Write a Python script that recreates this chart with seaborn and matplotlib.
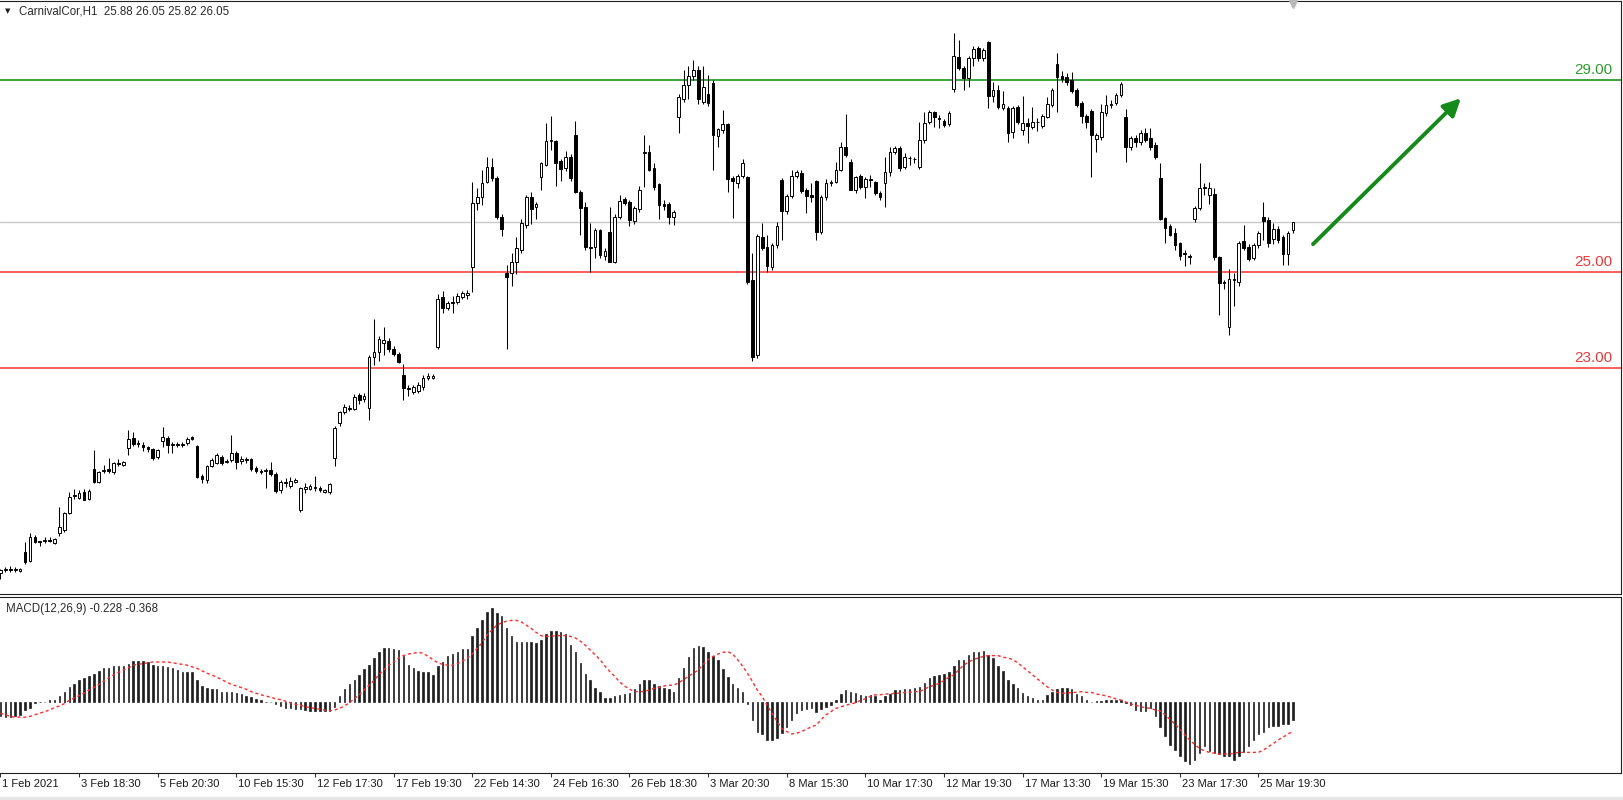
"""
CarnivalCor H1 candles with MACD(12,26,9) panel, MT4 style
"""
import numpy as np
import seaborn as sns
import matplotlib
matplotlib.use("Agg")
import matplotlib.pyplot as plt
from matplotlib import transforms
from matplotlib.patches import Rectangle

SYMBOL = "CarnivalCor,H1"

OPEN = [
    18.72, 18.80, 18.82, 18.80, 18.78, 19.17, 18.98, 19.48, 19.39, 19.40,
    19.42, 19.36, 19.56, 19.63, 19.98, 20.33, 20.30, 20.42, 20.27, 20.90,
    20.63, 20.85, 20.90, 20.83, 21.02, 20.98, 21.33, 21.54, 21.43, 21.39,
    21.35, 21.31, 21.14, 21.48, 21.55, 21.40, 21.42, 21.40, 21.43, 21.56,
    21.38, 20.75, 20.67, 20.96, 21.02, 21.15, 21.04, 21.08, 21.23, 21.06,
    21.10, 21.10, 20.92, 20.86, 20.85, 20.87, 20.80, 20.46, 20.60, 20.55,
    20.63, 20.04, 20.48, 20.48, 20.52, 20.50, 20.42, 20.42, 21.12, 21.85,
    22.08, 22.17, 22.15, 22.43, 22.35, 22.17, 23.23, 23.33, 23.52, 23.56,
    23.40, 23.29, 22.85, 22.58, 22.50, 22.52, 22.60, 22.80, 22.80, 23.44,
    24.48, 24.25, 24.38, 24.38, 24.48, 24.52, 25.10, 26.44, 26.56, 26.88,
    27.19, 26.96, 26.15, 24.98, 24.98, 25.20, 25.46, 25.98, 26.56, 26.35,
    26.98, 27.23, 27.73, 27.73, 27.31, 27.17, 27.40, 27.85, 26.67, 26.35,
    25.50, 25.52, 25.88, 25.33, 25.83, 25.21, 26.15, 26.52, 26.46, 26.06,
    26.31, 27.48, 27.50, 27.17, 26.83, 26.42, 26.42, 26.15, 28.23, 28.60,
    28.90, 29.08, 29.20, 28.55, 28.70, 28.94, 27.83, 27.96, 28.08, 26.96,
    26.85, 27.00, 26.98, 24.83, 23.27, 25.73, 25.52, 25.10, 25.56, 26.92,
    26.27, 26.58, 27.00, 27.06, 26.71, 26.60, 26.90, 25.83, 26.56, 26.85,
    26.87, 27.13, 27.60, 27.29, 26.71, 27.00, 26.77, 26.94, 26.87, 26.65,
    26.85, 27.08, 27.50, 27.58, 27.19, 27.38, 27.36, 27.19, 27.75, 28.12,
    28.33, 28.20, 28.15, 28.08, 28.81, 29.48, 29.25, 29.04, 29.46, 29.67,
    29.46, 29.79, 28.67, 28.79, 28.42, 28.42, 27.92, 28.44, 27.96, 28.10,
    28.02, 28.12, 28.04, 28.23, 28.48, 29.33, 29.08, 29.06, 29.00, 28.79,
    28.52, 28.25, 28.35, 27.77, 27.81, 28.31, 28.48, 28.52, 28.69, 28.23,
    27.60, 27.79, 27.71, 27.90, 27.80, 27.65, 26.96, 26.13, 25.96, 25.81,
    25.60, 25.40, 25.33, 26.10, 26.33, 26.77, 26.60, 26.63, 25.31, 24.79,
    23.85, 24.85, 24.79, 25.65, 25.52, 25.29, 25.56, 26.15, 26.08, 25.69,
    25.90, 25.73, 25.38, 25.88,
]
HIGH = [
    18.82, 18.85, 18.88, 18.86, 18.83, 19.38, 19.56, 19.52, 19.40, 19.48,
    19.47, 19.46, 20.10, 20.00, 20.42, 20.48, 20.46, 20.47, 20.48, 21.29,
    20.86, 20.98, 21.12, 21.05, 21.10, 21.06, 21.71, 21.67, 21.50, 21.45,
    21.38, 21.34, 21.31, 21.77, 21.58, 21.45, 21.46, 21.46, 21.56, 21.58,
    21.40, 20.80, 20.98, 21.12, 21.22, 21.18, 21.10, 21.60, 21.27, 21.16,
    21.14, 21.12, 20.96, 20.90, 20.92, 21.04, 20.84, 20.66, 20.70, 20.72,
    20.70, 20.52, 20.60, 20.58, 20.75, 20.54, 20.48, 20.60, 21.80, 22.10,
    22.25, 22.22, 22.46, 22.48, 22.48, 23.28, 24.02, 23.67, 23.85, 23.62,
    23.45, 23.33, 23.08, 22.65, 22.65, 22.70, 22.85, 22.90, 22.87, 24.55,
    24.60, 24.40, 24.50, 24.56, 24.60, 24.62, 26.88, 26.75, 27.13, 27.40,
    27.38, 27.00, 26.20, 25.15, 25.40, 25.72, 26.10, 26.60, 26.66, 26.46,
    27.30, 28.10, 28.25, 27.75, 27.35, 27.52, 27.45, 28.15, 26.70, 26.46,
    26.02, 25.92, 25.90, 25.50, 26.35, 26.20, 26.60, 26.56, 26.50, 26.38,
    26.80, 27.85, 27.65, 27.27, 26.85, 26.50, 26.45, 26.30, 28.70, 29.20,
    29.29, 29.42, 29.30, 29.30, 29.10, 29.00, 28.00, 28.38, 28.10, 27.00,
    27.05, 27.35, 27.00, 25.40, 25.80, 26.02, 25.77, 25.60, 26.04, 26.95,
    26.62, 27.13, 27.12, 27.13, 26.75, 26.85, 26.92, 26.60, 26.94, 26.92,
    27.29, 27.71, 28.29, 27.35, 27.00, 27.05, 26.98, 27.02, 26.90, 26.68,
    27.40, 27.60, 27.62, 27.62, 27.48, 27.42, 27.40, 28.13, 28.33, 28.38,
    28.36, 28.27, 28.19, 28.35, 29.98, 29.83, 29.30, 29.50, 29.70, 29.70,
    29.67, 29.81, 28.96, 28.90, 28.77, 28.45, 28.45, 28.48, 28.67, 28.21,
    28.44, 28.21, 28.29, 28.65, 28.83, 29.56, 29.19, 29.15, 29.17, 28.83,
    28.56, 28.29, 28.40, 27.90, 28.50, 28.69, 28.58, 28.73, 28.96, 28.40,
    27.83, 27.85, 27.95, 28.00, 28.00, 27.70, 27.27, 26.15, 26.00, 25.92,
    25.63, 25.46, 25.38, 26.38, 27.27, 26.85, 26.88, 26.75, 25.33, 24.83,
    25.06, 24.98, 25.65, 25.98, 25.58, 25.60, 25.85, 26.46, 26.15, 26.02,
    25.96, 25.77, 25.85, 26.05,
]
LOW = [
    18.60, 18.74, 18.76, 18.76, 18.75, 18.92, 18.96, 19.35, 19.30, 19.35,
    19.37, 19.33, 19.50, 19.58, 19.95, 20.28, 20.28, 20.24, 20.25, 20.60,
    20.60, 20.82, 20.82, 20.80, 20.95, 20.96, 21.19, 21.38, 21.36, 21.28,
    21.26, 21.08, 21.10, 21.35, 21.22, 21.22, 21.36, 21.36, 21.40, 21.50,
    20.70, 20.60, 20.60, 20.94, 21.00, 20.98, 21.02, 21.04, 20.90, 21.00,
    21.02, 20.86, 20.82, 20.80, 20.50, 20.76, 20.40, 20.40, 20.52, 20.50,
    20.60, 20.00, 20.40, 20.45, 20.44, 20.42, 20.40, 20.38, 20.95, 21.80,
    22.05, 22.10, 22.12, 22.25, 22.30, 21.92, 23.06, 23.15, 23.27, 23.33,
    23.25, 23.10, 22.33, 22.42, 22.46, 22.48, 22.55, 22.74, 22.78, 23.40,
    24.15, 24.20, 24.15, 24.34, 24.44, 24.44, 24.58, 26.30, 26.40, 26.85,
    26.90, 26.10, 25.75, 23.40, 24.70, 24.95, 25.40, 25.92, 26.00, 26.10,
    26.70, 27.20, 27.55, 26.80, 26.90, 27.10, 26.90, 26.65, 25.77, 25.45,
    25.00, 25.30, 25.30, 25.25, 25.20, 25.18, 26.10, 26.40, 25.96, 26.00,
    26.25, 26.77, 27.10, 26.70, 26.10, 26.30, 26.00, 25.98, 27.90, 28.55,
    28.60, 29.00, 28.50, 28.50, 28.45, 27.13, 27.60, 27.90, 26.67, 26.13,
    26.75, 26.95, 24.75, 23.15, 23.20, 25.45, 25.00, 25.05, 25.50, 25.67,
    26.20, 26.55, 26.95, 26.65, 26.23, 26.46, 25.67, 25.80, 26.50, 26.80,
    26.85, 27.10, 27.40, 26.70, 26.65, 26.72, 26.54, 26.77, 26.60, 26.50,
    26.35, 27.00, 27.45, 27.10, 27.15, 27.23, 27.28, 27.15, 27.69, 28.08,
    28.02, 28.00, 28.02, 28.04, 28.75, 29.20, 28.79, 28.85, 29.30, 29.40,
    29.40, 28.42, 28.54, 28.40, 28.38, 27.71, 27.79, 28.08, 27.85, 27.69,
    27.98, 27.94, 28.00, 28.20, 28.44, 28.33, 28.95, 28.90, 28.73, 28.44,
    28.10, 28.00, 26.98, 27.50, 27.75, 28.25, 28.42, 28.48, 28.65, 27.29,
    27.55, 27.60, 27.65, 27.70, 27.55, 27.35, 26.08, 25.60, 25.75, 25.46,
    25.25, 25.13, 25.17, 26.05, 26.30, 26.60, 26.42, 25.25, 24.10, 24.65,
    23.69, 24.29, 24.70, 25.45, 25.23, 25.25, 25.50, 25.67, 25.52, 25.58,
    25.60, 25.15, 25.15, 25.82,
]
CLOSE = [
    18.80, 18.82, 18.80, 18.82, 18.81, 18.96, 19.48, 19.38, 19.38, 19.42,
    19.40, 19.44, 19.69, 19.98, 20.31, 20.36, 20.40, 20.26, 20.43, 20.63,
    20.83, 20.88, 20.86, 21.02, 21.00, 21.04, 21.52, 21.42, 21.41, 21.36,
    21.32, 21.12, 21.29, 21.56, 21.39, 21.42, 21.40, 21.42, 21.53, 21.52,
    20.73, 20.69, 20.96, 21.08, 21.19, 21.02, 21.06, 21.23, 21.05, 21.10,
    21.08, 20.90, 20.86, 20.84, 20.87, 20.80, 20.43, 20.63, 20.63, 20.65,
    20.67, 20.50, 20.52, 20.55, 20.50, 20.45, 20.46, 20.58, 21.75, 22.08,
    22.19, 22.15, 22.40, 22.33, 22.42, 23.23, 23.33, 23.60, 23.58, 23.40,
    23.29, 23.13, 22.58, 22.56, 22.60, 22.65, 22.79, 22.83, 22.83, 24.44,
    24.25, 24.35, 24.36, 24.50, 24.56, 24.56, 26.44, 26.56, 26.85, 27.19,
    26.96, 26.15, 25.90, 24.90, 25.20, 25.50, 26.02, 26.56, 26.31, 26.42,
    27.27, 27.73, 27.75, 27.27, 27.15, 27.40, 26.96, 26.67, 26.33, 25.52,
    25.52, 25.88, 25.35, 25.44, 25.21, 26.15, 26.48, 26.44, 26.08, 26.33,
    26.71, 27.50, 27.13, 26.77, 26.40, 26.38, 26.15, 26.25, 28.65, 28.90,
    29.08, 29.21, 28.60, 28.85, 28.52, 27.85, 27.98, 28.08, 26.94, 26.90,
    27.00, 27.27, 24.79, 23.23, 25.75, 25.50, 25.13, 25.56, 25.96, 26.27,
    26.58, 27.00, 27.08, 26.69, 26.58, 26.56, 25.83, 26.56, 26.85, 26.87,
    27.13, 27.60, 27.44, 26.71, 26.98, 26.77, 26.94, 26.92, 26.65, 26.56,
    27.08, 27.50, 27.58, 27.17, 27.40, 27.37, 27.35, 27.75, 28.10, 28.33,
    28.23, 28.19, 28.06, 28.31, 29.50, 29.25, 29.04, 29.46, 29.65, 29.46,
    29.63, 28.67, 28.79, 28.44, 28.50, 27.90, 28.42, 28.13, 28.10, 28.04,
    28.13, 28.13, 28.25, 28.50, 28.79, 29.06, 29.02, 28.96, 28.77, 28.48,
    28.25, 28.13, 27.85, 27.85, 28.33, 28.48, 28.50, 28.69, 28.92, 27.60,
    27.79, 27.71, 27.90, 27.75, 27.60, 27.40, 26.10, 25.92, 25.77, 25.56,
    25.33, 25.38, 25.31, 26.33, 26.75, 26.75, 26.75, 25.31, 24.77, 24.77,
    24.85, 24.83, 25.60, 25.50, 25.27, 25.56, 25.81, 26.06, 25.60, 25.90,
    25.67, 25.38, 25.81, 26.05,
]

MACD_MAIN = [
    -0.18, -0.19, -0.19, -0.18, -0.16, -0.10, -0.08, -0.01, 0.00, 0.00,
    0.02, 0.03, 0.07, 0.13, 0.19, 0.23, 0.28, 0.30, 0.32, 0.35,
    0.39, 0.42, 0.43, 0.45, 0.45, 0.45, 0.48, 0.51, 0.51, 0.51,
    0.50, 0.46, 0.45, 0.45, 0.44, 0.42, 0.40, 0.38, 0.37, 0.37,
    0.28, 0.20, 0.17, 0.16, 0.16, 0.13, 0.12, 0.12, 0.11, 0.10,
    0.075, 0.06, 0.04, 0.02, 0.00, 0.00, -0.02, -0.05, -0.07, -0.08,
    -0.09, -0.09, -0.10, -0.11, -0.11, -0.11, -0.11, -0.11, -0.06, 0.07,
    0.16, 0.22, 0.28, 0.34, 0.41, 0.46, 0.55, 0.63, 0.67, 0.67,
    0.66, 0.65, 0.58, 0.46, 0.42, 0.39, 0.38, 0.37, 0.34, 0.45,
    0.50, 0.58, 0.60, 0.63, 0.66, 0.66, 0.82, 0.92, 1.03, 1.12,
    1.17, 1.11, 1.07, 0.92, 0.82, 0.75, 0.75, 0.75, 0.75, 0.74,
    0.78, 0.85, 0.89, 0.89, 0.87, 0.85, 0.71, 0.63, 0.49, 0.35,
    0.28, 0.18, 0.12, 0.05, 0.05, 0.07, 0.09, 0.10, 0.11, 0.16,
    0.22, 0.27, 0.27, 0.23, 0.20, 0.18, 0.16, 0.13, 0.30, 0.43,
    0.56, 0.67, 0.70, 0.69, 0.62, 0.57, 0.53, 0.41, 0.31, 0.23,
    0.18, 0.12, -0.03, -0.22, -0.37, -0.40, -0.47, -0.48, -0.45, -0.39,
    -0.31, -0.23, -0.14, -0.10, -0.09, -0.08, -0.12, -0.09, -0.06, -0.04,
    0.02, 0.10, 0.15, 0.12, 0.11, 0.09, 0.07, 0.09, 0.07, 0.03,
    0.075, 0.10, 0.15, 0.15, 0.16, 0.16, 0.17, 0.19, 0.24, 0.30,
    0.33, 0.34, 0.35, 0.37, 0.45, 0.53, 0.53, 0.59, 0.63, 0.63,
    0.64, 0.59, 0.55, 0.45, 0.39, 0.28, 0.23, 0.18, 0.11, 0.075,
    0.05, 0.03, 0.03, 0.09, 0.12, 0.16, 0.17, 0.17, 0.16, 0.10,
    0.07, 0.025, 0.005, 0.01, 0.01, 0.02, 0.025, 0.02, 0.03, -0.01,
    -0.04, -0.10, -0.11, -0.11, -0.08, -0.18, -0.31, -0.42, -0.54, -0.60,
    -0.68, -0.74, -0.78, -0.73, -0.64, -0.55, -0.61, -0.64, -0.65, -0.68,
    -0.68, -0.72, -0.67, -0.63, -0.55, -0.48, -0.40, -0.37, -0.31, -0.30,
    -0.30, -0.275, -0.27, -0.228,
]
MACD_SIGNAL = [
    -0.14, -0.16, -0.18, -0.19, -0.19, -0.19, -0.18, -0.16, -0.14, -0.12,
    -0.10, -0.07, -0.05, -0.02, 0.02, 0.05, 0.08, 0.11, 0.15, 0.18,
    0.22, 0.26, 0.30, 0.34, 0.37, 0.40, 0.43, 0.46, 0.47, 0.48,
    0.49, 0.50, 0.50, 0.50, 0.50, 0.49, 0.48, 0.47, 0.46, 0.44,
    0.42, 0.39, 0.36, 0.34, 0.31, 0.28, 0.25, 0.22, 0.20, 0.18,
    0.16, 0.13, 0.11, 0.09, 0.075, 0.06, 0.04, 0.03, 0.01, -0.01,
    -0.03, -0.04, -0.06, -0.07, -0.08, -0.09, -0.10, -0.11, -0.10, -0.08,
    -0.05, -0.01, 0.04, 0.09, 0.15, 0.21, 0.27, 0.34, 0.40, 0.46,
    0.50, 0.55, 0.58, 0.60, 0.61, 0.62, 0.61, 0.57, 0.53, 0.49,
    0.47, 0.46, 0.46, 0.48, 0.51, 0.55, 0.60, 0.67, 0.74, 0.84,
    0.90, 0.96, 0.99, 1.01, 1.02, 1.02, 1.00, 0.96, 0.92, 0.87,
    0.83, 0.82, 0.82, 0.83, 0.83, 0.83, 0.82, 0.80, 0.76, 0.71,
    0.65, 0.59, 0.53, 0.45, 0.38, 0.32, 0.25, 0.20, 0.16, 0.13,
    0.13, 0.13, 0.15, 0.17, 0.18, 0.20, 0.21, 0.21, 0.24, 0.28,
    0.32, 0.36, 0.40, 0.47, 0.53, 0.57, 0.60, 0.62, 0.63, 0.60,
    0.53, 0.45, 0.36, 0.26, 0.15, 0.07, -0.04, -0.14, -0.24, -0.33,
    -0.37, -0.40, -0.39, -0.37, -0.34, -0.31, -0.29, -0.22, -0.16, -0.12,
    -0.08, -0.06, -0.04, -0.025, -0.01, 0.02, 0.04, 0.07, 0.09, 0.09,
    0.10, 0.10, 0.11, 0.11, 0.12, 0.12, 0.13, 0.13, 0.16, 0.19,
    0.21, 0.23, 0.27, 0.31, 0.34, 0.40, 0.46, 0.50, 0.53, 0.55,
    0.57, 0.58, 0.58, 0.58, 0.56, 0.55, 0.53, 0.49, 0.44, 0.39,
    0.34, 0.29, 0.24, 0.19, 0.15, 0.12, 0.11, 0.11, 0.12, 0.12,
    0.13, 0.12, 0.12, 0.10, 0.09, 0.075, 0.06, 0.04, 0.025, 0.00,
    -0.025, -0.04, -0.06, -0.07, -0.08, -0.10, -0.11, -0.16, -0.22, -0.275,
    -0.34, -0.41, -0.475, -0.53, -0.58, -0.61, -0.63, -0.64, -0.65, -0.65,
    -0.65, -0.64, -0.63, -0.63, -0.63, -0.63, -0.63, -0.60, -0.56, -0.52,
    -0.475, -0.44, -0.40, -0.368,
]

TICK_LABELS = [
    "1 Feb 2021", "3 Feb 18:30", "5 Feb 20:30", "10 Feb 15:30", "12 Feb 17:30",
    "17 Feb 19:30", "22 Feb 14:30", "24 Feb 16:30", "26 Feb 18:30", "3 Mar 20:30",
    "8 Mar 15:30", "10 Mar 17:30", "12 Mar 19:30", "17 Mar 13:30", "19 Mar 15:30",
    "23 Mar 17:30", "25 Mar 19:30",
]
BARS_PER_TICK = 16

LEVELS = [29.0, 25.0, 23.0]
LEVEL_COLORS = ["#0a8a0a", "#ff3030", "#ff3030"]
LEVEL_TEXT_COLORS = ["#2f9a2f", "#e83a3a", "#e83a3a"]

# forecast arrow (bar index, price)
ARROW_FROM = (267.1, 25.58)
ARROW_TO = (297.2, 28.62)

W, H = 1623, 800
PX_PER_BAR = 4.914

sns.set_style("white")
plt.rcParams['font.family'] = ['Liberation Sans', 'DejaVu Sans']

fig = plt.figure(figsize=(W / 100, H / 100), dpi=100)
ax = fig.add_axes([0, 206 / H, 1621 / W, 593 / H])
ax_m = fig.add_axes([0, 27 / H, 1621 / W, 176 / H])

idx = np.arange(len(CLOSE))
o, hi, lo, c = (np.array(v) for v in (OPEN, HIGH, LOW, CLOSE))
up = c >= o

# candles
ax.vlines(idx, lo, hi, color="black", lw=0.75, zorder=3)
ax.bar(idx, np.abs(c - o), bottom=np.minimum(o, c), width=0.55,
       color=np.where(up, "white", "black"), edgecolor="black",
       linewidth=0.7, zorder=4)

# levels + current price line
for lvl, col, tcol in zip(LEVELS, LEVEL_COLORS, LEVEL_TEXT_COLORS):
    ax.axhline(lvl, color=col, lw=1.1, zorder=2)
    ax.annotate(f"{lvl:.2f}", xy=(1 - 9 / 1621, lvl), xycoords=ax.get_yaxis_transform(),
                xytext=(0, 4.5), textcoords="offset points", ha="right",
                va="baseline", color=tcol, fontsize=11)
ax.axhline(c[-1], color="#c8c8c8", lw=1.0, zorder=1)

ax.annotate("", xy=ARROW_TO, xytext=ARROW_FROM,
            arrowprops=dict(arrowstyle="-|>", color="#15891a", lw=2.8,
                            mutation_scale=26, shrinkA=0, shrinkB=0), zorder=5)

# shift marker at last bar
ax.plot([idx[-1]], [1 - 3 / 593], marker="v", ms=6, color="#b8b8b8",
        transform=ax.get_xaxis_transform(), clip_on=False, zorder=6)

x_max = 1621 / PX_PER_BAR
ax.set_xlim(-0.1, x_max - 0.1)
ax.set_ylim(29 - 514 / 48, 29 + 79 / 48)
ax.set_xticks([])
ax.set_yticks([])

# MACD panel
sns.barplot(x=idx, y=MACD_MAIN, native_scale=True, width=0.3, color="#1e1e1e",
            saturation=1, errorbar=None, orient="x", ax=ax_m,
            edgecolor="#1e1e1e", linewidth=0.5)
sns.lineplot(x=idx, y=MACD_SIGNAL, ax=ax_m, color="#ff2a2a", lw=1.0,
             linestyle=(0, (2.2, 2.0)))
ax_m.set_xlim(-0.1, x_max - 0.1)
ax_m.set_ylim(-71 / 80, 105 / 80)
ax_m.set_ylabel("")
ax_m.set_xlabel("")
ax_m.set_yticks([])
ax_m.set_xticks(np.arange(len(TICK_LABELS)) * BARS_PER_TICK)
ax_m.set_xticklabels(TICK_LABELS, ha="left", fontsize=8, color="#1a1a1a")
ax_m.tick_params(axis="x", bottom=True, direction="out", length=3, width=0.8,
                 pad=1.5, color="#333333")
shift = transforms.ScaledTranslation(2 / 100, 0, fig.dpi_scale_trans)
for lab in ax_m.get_xticklabels():
    lab.set_transform(lab.get_transform() + shift)

for a in (ax, ax_m):
    for side, sp in a.spines.items():
        sp.set_color("#202020")
        sp.set_linewidth(0.8)
    a.spines["left"].set_visible(False)

# header texts
fig.text(8 / W, 1 - 11 / H, "▼", fontsize=5, ha="center", va="center",
         family="DejaVu Sans", color="#202020")
fig.text(19 / W, 1 - 11 / H,
         f"{SYMBOL}  {o[-1]:.2f} {hi[-1]:.2f} {lo[-1]:.2f} {c[-1]:.2f}",
         fontsize=8.3, ha="left", va="center", color="#2a2a2a")
fig.text(6 / W, 1 - 609 / H,
         f"MACD(12,26,9) {MACD_MAIN[-1]:.3f} {MACD_SIGNAL[-1]:.3f}",
         fontsize=8.3, ha="left", va="center", color="#2a2a2a")

fig.patches.append(Rectangle((0, 0), 1, 3 / H, transform=fig.transFigure,
                             color="#e6e6e6", zorder=0))

fig.savefig("out.png", dpi=100)
